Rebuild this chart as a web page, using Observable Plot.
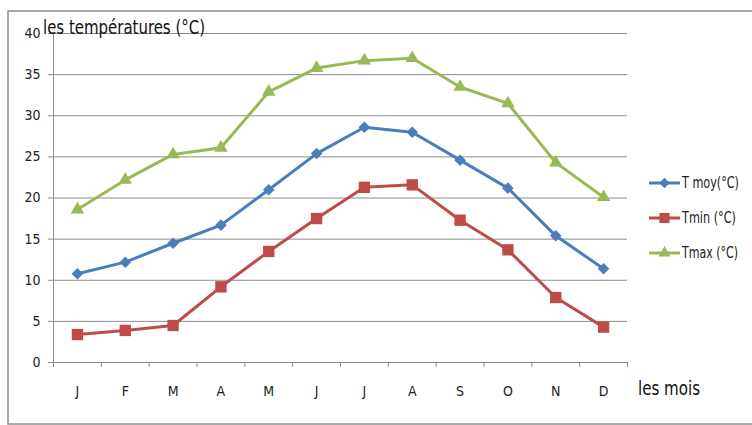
<!DOCTYPE html>
<html><head><meta charset="utf-8">
<script src="https://cdn.jsdelivr.net/npm/d3@7"></script>
<script src="https://cdn.jsdelivr.net/npm/@observablehq/plot@0.6"></script>
<style>
body{margin:0;background:#fff;}
#chart{position:relative;width:752px;height:425px;}
</style>
</head><body><div id="chart"></div>
<script>
const months = ["J","F","M","A","M","J","J","A","S","O","N","D"];
const tmoy = [10.8, 12.2, 14.5, 16.7, 21.0, 25.4, 28.6, 28.0, 24.6, 21.2, 15.4, 11.4];
const tmin = [3.4, 3.9, 4.5, 9.2, 13.5, 17.5, 21.3, 21.6, 17.3, 13.7, 7.9, 4.3];
const tmax = [18.6, 22.2, 25.3, 26.1, 32.9, 35.8, 36.7, 37.0, 33.5, 31.5, 24.3, 20.1];
const seriesNames = ["T moy(°C)", "Tmin (°C)", "Tmax (°C)"];
const colors = ["#4A7EBB", "#BE4B48", "#98B954"];
const symbols = ["diamond2", "square", "triangle"];
const radii = [5.2, 6.4, 5.0];
const yTicks = [0, 5, 10, 15, 20, 25, 30, 35, 40];
const yTitle = "les températures (°C)";
const xTitle = "les mois";

const FONT = "'Liberation Sans Narrow','DejaVu Sans Condensed','Open Sans',sans-serif";
const grey = "#8c8c8c";

const allSeries = [tmoy, tmin, tmax];
const data = [];
allSeries.forEach((vals, s) => vals.forEach((v, i) => data.push({series: seriesNames[s], x: i + 0.5, v})));

const marks = [
  Plot.gridY(yTicks, {stroke: grey, strokeOpacity: 1, strokeWidth: 1}),
  Plot.ruleX([0], {stroke: grey}),
  Plot.ruleY([0], {stroke: grey}),
  Plot.axisY({ticks: yTicks, tickSize: 5, tickPadding: 8, label: null, stroke: grey, fontSize: 14}),
  Plot.axisX({ticks: d3.range(13), tickSize: 5, tickFormat: () => "", label: null, stroke: grey}),
  Plot.axisX({ticks: months.map((m, i) => i + 0.5), tickSize: 0, tickPadding: 24,
    tickFormat: d => months[Math.floor(d)], label: null, fontSize: 14})
];
seriesNames.forEach((name, s) => {
  const rows = data.filter(d => d.series === name);
  marks.push(Plot.line(rows, {x: "x", y: "v", stroke: colors[s], strokeWidth: 3}));
});
seriesNames.forEach((name, s) => {
  const rows = data.filter(d => d.series === name);
  marks.push(Plot.dot(rows, {x: "x", y: "v", fill: colors[s], stroke: "none", symbol: symbols[s], r: radii[s]}));
});

const plot = Plot.plot({
  width: 752, height: 425,
  marginLeft: 53, marginRight: 125, marginTop: 33, marginBottom: 63,
  style: {fontFamily: FONT, fontSize: "14px", color: "#222", background: "#fff"},
  x: {domain: [0, 12]},
  y: {domain: [0, 40]},
  marks
});
document.getElementById("chart").appendChild(plot);

const svg = d3.select(plot);
// outer chart border
svg.append("rect").attr("x", 8).attr("y", 11).attr("width", 752).attr("height", 413)
  .attr("fill", "none").attr("stroke", grey).attr("stroke-width", 1.5);
// titles
svg.append("text").attr("x", 43).attr("y", 34).attr("text-anchor", "start").text(yTitle)
  .attr("textLength", 162).attr("lengthAdjust", "spacingAndGlyphs")
  .attr("font-family", FONT).attr("font-size", 20).attr("fill", "#111");
svg.append("text").attr("x", 638).attr("y", 395).attr("text-anchor", "start").text(xTitle)
  .attr("textLength", 62).attr("lengthAdjust", "spacingAndGlyphs")
  .attr("font-family", FONT).attr("font-size", 20).attr("fill", "#111");
// legend
const symMap = {diamond2: d3.symbolDiamond2, square: d3.symbolSquare, triangle: d3.symbolTriangle};
const legY = [183, 218, 253];
const legW = [57, 54, 56];
seriesNames.forEach((name, s) => {
  const g = svg.append("g").attr("transform", `translate(0,${legY[s]})`);
  g.append("line").attr("x1", 649).attr("x2", 680).attr("y1", 0).attr("y2", 0)
    .attr("stroke", colors[s]).attr("stroke-width", 3);
  g.append("path").attr("transform", "translate(664.5,0)")
    .attr("d", d3.symbol(symMap[symbols[s]], Math.PI * radii[s] * radii[s] * 0.8)())
    .attr("fill", colors[s]);
  g.append("text").attr("x", 682).attr("y", 0).attr("dy", "0.35em").attr("text-anchor", "start").text(name)
    .attr("textLength", legW[s]).attr("lengthAdjust", "spacingAndGlyphs")
    .attr("font-family", FONT).attr("font-size", 15).attr("fill", "#222");
});
</script>
</body></html>
